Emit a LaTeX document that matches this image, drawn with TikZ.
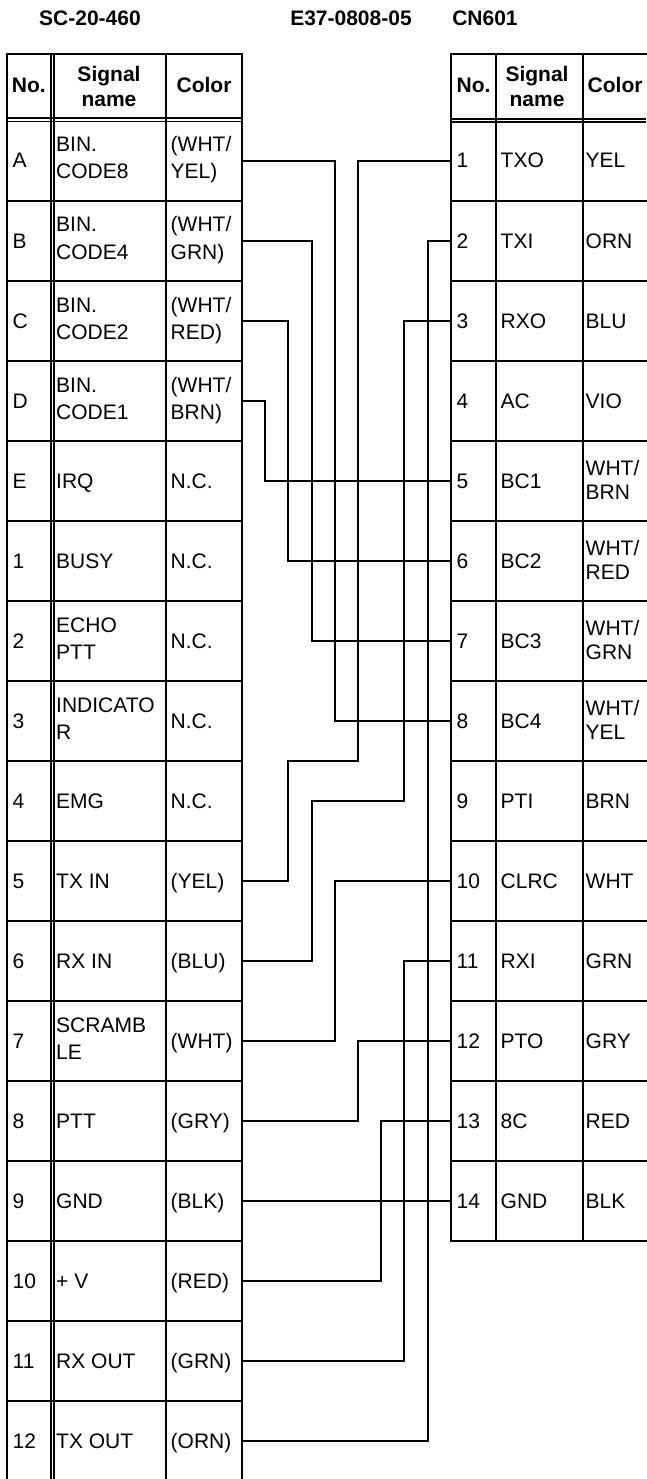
\documentclass[tikz,border=0pt]{standalone}
\usepackage{fontspec}
\setmainfont{Liberation Sans}
\begin{document}
\begin{tikzpicture}[x=1pt,y=-1pt,
  tl/.style={line width=2.1pt, line cap=rect},
  dbl/.style={line width=1.6pt},
  wire/.style={line width=2pt},
  thinwire/.style={line width=1.1pt},
  cell/.style={anchor=base west, inner sep=0pt, font=\fontsize{21}{25}\selectfont},
  head/.style={anchor=base, inner sep=0pt, font=\fontsize{21}{25}\selectfont\bfseries},
]
\useasboundingbox (0,0) rectangle (646,1479);

% titles
\node[head] (t1) at (90,26) {SC-20-460};
\node[head] (t2) at (351,26) {E37-0808-05};
\node[head] (t3) at (485,26) {CN601};

% left table grid
\draw[tl] (7,1479) -- (7,54) -- (242,54) -- (242,1479);
\draw[dbl] (50.8,54) -- (50.8,1479) (53.8,54) -- (53.8,1479);
\draw[tl] (166,54) -- (166,1479);
\draw[dbl] (7,118.3) -- (242,118.3) (7,121.7) -- (242,121.7);
\foreach \k in {1,...,16} \draw[tl] (7,{121+80*\k}) -- (242,{121+80*\k});

% right table grid
\draw[tl] (646,54) -- (451,54) -- (451,1241) -- (646,1241);
\draw[tl] (496,54) -- (496,1241) (583,54) -- (583,1241);
\draw[dbl] (451,118.8) -- (646,118.8) (451,122.2) -- (646,122.2);
\foreach \k in {1,...,13} \draw[tl] (451,{121+80*\k}) -- (646,{121+80*\k});

% headers
\node[head] (lhno) at (28.8,93) {No.};
\node[head] (lhs1) at (109,81.5) {Signal};
\node[head] (lhs2) at (109,107) {name};
\node[head] (lhc) at (204,93) {Color};
\node[head] (rhno) at (473.5,93) {No.};
\node[head] (rhs1) at (537,81.5) {Signal};
\node[head] (rhs2) at (537,107) {name};
\node[head, anchor=base west] (rhc) at (587.5,93) {Color};

% left table cells
\foreach \i/\no in {0/A,1/B,2/C,3/D,4/E,5/1,6/2,7/3,8/4,9/5,10/6,11/7,12/8,13/9,14/10,15/11,16/12}
  \node[cell] (lno\i) at (12.5,{168+80*\i}) {\no};
\foreach \i/\s in {4/IRQ,5/BUSY,8/EMG,9/TX IN,10/RX IN,12/PTT,13/GND,14/+ V,15/RX OUT,16/TX OUT}
  \node[cell] (lsn\i) at (56,{168+80*\i}) {\s};
\foreach \i/\sa/\sb in {0/BIN./CODE8,1/BIN./CODE4,2/BIN./CODE2,3/BIN./CODE1,6/ECHO/PTT,7/INDICATO/R,11/SCRAMB/LE}{
  \node[cell] (lsa\i) at (56,{152+80*\i}) {\sa};
  \node[cell] (lsb\i) at (56,{179+80*\i}) {\sb};
}
\foreach \i/\c in {4/N.C.,5/N.C.,6/N.C.,7/N.C.,8/N.C.,9/(YEL),10/(BLU),11/(WHT),12/(GRY),13/(BLK),14/(RED),15/(GRN),16/(ORN)}
  \node[cell] (lcn\i) at (170.5,{168+80*\i}) {\c};
\foreach \i/\ca/\cb in {0/{(WHT/}/{YEL)},1/{(WHT/}/{GRN)},2/{(WHT/}/{RED)},3/{(WHT/}/{BRN)}}{
  \node[cell] (lca\i) at (170.5,{152+80*\i}) {\ca};
  \node[cell] (lcb\i) at (170.5,{179+80*\i}) {\cb};
}

% right table cells
\foreach \j/\s in {1/TXO,2/TXI,3/RXO,4/AC,5/BC1,6/BC2,7/BC3,8/BC4,9/PTI,10/CLRC,11/RXI,12/PTO,13/8C,14/GND}{
  \node[cell] (rno\j) at (456.5,{168+80*(\j-1)}) {\j};
  \node[cell] (rsn\j) at (500.5,{168+80*(\j-1)}) {\s};
}
\foreach \j/\c in {1/YEL,2/ORN,3/BLU,4/VIO,9/BRN,10/WHT,11/GRN,12/GRY,13/RED,14/BLK}
  \node[cell] (rcn\j) at (585.5,{168+80*(\j-1)}) {\c};
\foreach \j/\cb in {5/BRN,6/RED,7/GRN,8/YEL}{
  \node[cell] (rca\j) at (585.5,{155+80*(\j-1)}) {WHT/};
  \node[cell] (rcb\j) at (585.5,{179+80*(\j-1)}) {\cb};
}

% pin coordinates
\foreach \i in {0,...,16} \coordinate (L\i) at (242,{161+80*\i});
\foreach \j in {1,...,14} \coordinate (R\j) at (451,{161+80*(\j-1)});
\coordinate (xa) at (265,0);
\coordinate (xb) at (288,0);
\coordinate (xc) at (312,0);
\coordinate (xd) at (335,0);
\coordinate (xe) at (358,0);
\coordinate (xf) at (381,0);
\coordinate (xg) at (404,0);
\coordinate (xh) at (428,0);
\coordinate (j1) at (0,761);

% wires
\draw[thinwire] (L0) -| (xd |- R8) -- (R8);
\draw[wire] (L1) -| (xc |- R7) -- (R7);
\draw[wire] (L2) -| (xb |- R6) -- (R6);
\draw[wire] (L3) -| (xa |- R5) -- (R5);
\draw[wire] (L9) -| (xb |- j1) -| (xe |- R1) -- (R1);
\draw[wire] (L10) -| (xc |- L8) -| (xg |- R3) -- (R3);
\draw[wire] (L11) -| (xd |- R10) -- (R10);
\draw[wire] (L12) -| (xe |- R12) -- (R12);
\draw[wire] (L13) -- (R14);
\draw[wire] (L14) -| (xf |- R13) -- (R13);
\draw[wire] (L15) -| (xg |- R11) -- (R11);
\draw[wire] (L16) -| (xh |- R2) -- (R2);
\end{tikzpicture}
\end{document}
